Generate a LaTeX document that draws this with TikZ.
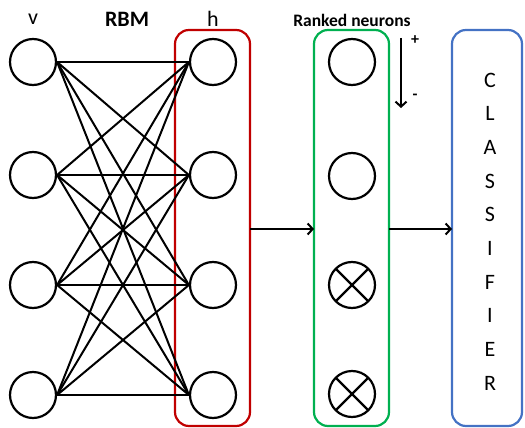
\documentclass[tikz,border=0pt]{standalone}
\usepackage{fontspec}
\setmainfont{Carlito}
\usetikzlibrary{arrows.meta}
\definecolor{rbmred}{RGB}{192,0,0}
\definecolor{rankgreen}{RGB}{0,176,80}
\definecolor{clsblue}{RGB}{68,114,196}
\begin{document}
\begin{tikzpicture}[x=1pt,y=-1pt,
  neuron/.style={circle,draw=black,line width=2.2pt,minimum size=46pt,inner sep=0pt},
  xneuron/.style={neuron,path picture={\draw[line width=2.2pt]
      (path picture bounding box.north west)--(path picture bounding box.south east)
      (path picture bounding box.north east)--(path picture bounding box.south west);}},
  group/.style={draw,line width=2.2pt,rounded corners=14pt},
  edge/.style={line width=2pt},
  flow/.style={line width=2pt,-{Straight Barb[length=5pt,width=11pt,line width=2pt]}},
  lbl/.style={font=\fontsize{22}{24}\selectfont,inner sep=0pt},
  letter/.style={font=\fontsize{22}{24}\selectfont,inner sep=0pt}]
\useasboundingbox (0,0) rectangle (525,428);
% boxes
\draw[group,rbmred] (175,30) rectangle (250,426);
\draw[group,rankgreen] (314,30) rectangle (389,426);
\draw[group,clsblue] (452,30) rectangle (522,426);
\coordinate (redR) at (250,229);
\coordinate (greenL) at (314,229);
\coordinate (greenR) at (389,229);
\coordinate (blueL) at (452,229);
% neurons
\foreach \i/\y in {1/62,2/175,3/285,4/395}{
  \node[neuron] (v\i) at (33,\y) {};
  \node[neuron] (h\i) at (213,\y) {};
}
\foreach \i in {1,...,4}{
  \foreach \j in {1,...,4}{
    \draw[edge] (v\i.east) -- (h\j.west);
  }
}
\node[neuron] (r1) at (352,62) {};
\node[neuron] (r2) at (352,176) {};
\node[xneuron] (r3) at (352,285) {};
\node[xneuron] (r4) at (352,394) {};
% labels
\node[lbl] (lv) at (33,19) {v};
\node[lbl,font=\fontsize{22}{24}\selectfont\bfseries] (lrbm) at (127,19) {RBM};
\node[lbl] (lh) at (213,19) {h};
\node[lbl,font=\fontsize{17.5}{19}\selectfont\bfseries] (lrank) at (352,20) {Ranked neurons};
% rank arrow
\coordinate (at) at (401,38);
\coordinate (ab) at (401,108);
\draw[flow] (at) -- (ab);
\node[lbl,font=\fontsize{16}{18}\selectfont\bfseries] (plus) at (415,40) {+};
\node[lbl,font=\fontsize{16}{18}\selectfont\bfseries] (minus) at (415,97) {-};
% flow arrows
\draw[flow] (redR) -- (greenL);
\draw[flow] (greenR) -- (blueL);
% classifier letters
\foreach \c [count=\k from 0] in {C,L,A,S,S,I,F,I,E,R}{
  \node[letter] (c\k) at (490,{80+33.7*\k}) {\c};
}
\end{tikzpicture}
\end{document}
